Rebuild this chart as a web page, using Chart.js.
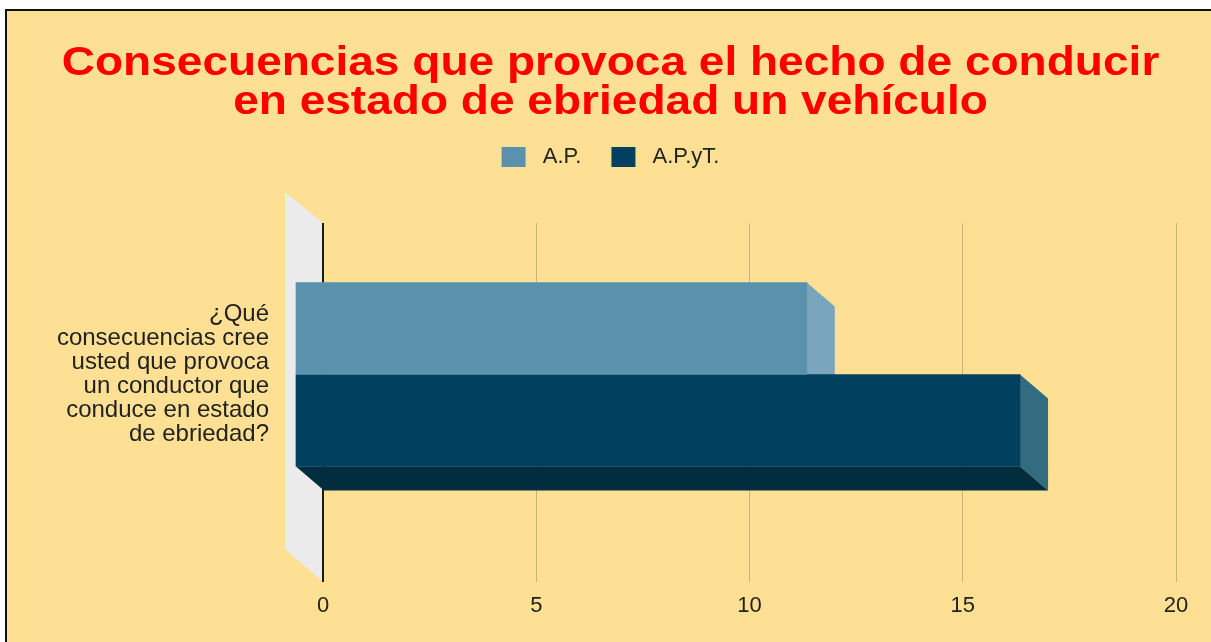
<!DOCTYPE html>
<html>
<head>
<meta charset="utf-8">
<script src="https://cdn.jsdelivr.net/npm/chart.js@4.4.1/dist/chart.umd.min.js"></script>
<style>
  html, body { margin: 0; padding: 0; background: #ffffff; }
  canvas { display: block; }
</style>
</head>
<body>
<canvas id="c" width="1211" height="642"></canvas>
<script>
const categories = [["¿Qué", "consecuencias cree", "usted que provoca", "un conductor que", "conduce en estado", "de ebriedad?"]];
const seriesNames = ["A.P.", "A.P.yT."];
const apValues = [12];
const apytValues = [17];
const xTicks = [0, 5, 10, 15, 20];

const FONT = "'Liberation Sans', Arial, sans-serif";
const BG = '#FEE094';
const SHIFT_X = 28, SHIFT_Y = 28;   // front face offset
const DEPTH_X = 28, DEPTH_Y = 24;   // 3D depth of bars
const TITLE_STRETCH = 1.151;
const sideColors = ['#7AA6BD', '#336B80'];
const bottomColors = ['#3E6175', '#012D3F'];

const background = {
  id: 'background',
  beforeDraw(chart) {
    const ctx = chart.ctx;
    const w = chart.width, h = chart.height;
    ctx.save();
    ctx.fillStyle = '#ffffff';
    ctx.fillRect(0, 0, w, h);
    ctx.fillStyle = '#111111';
    ctx.fillRect(5, 9, w - 5, h - 9);
    ctx.fillStyle = BG;
    ctx.fillRect(7, 11, w - 7, h - 11);
    const ca = chart.chartArea;
    ctx.fillStyle = '#EBEBEB';
    ctx.beginPath();
    ctx.moveTo(ca.left - 38, ca.top - 31);
    ctx.lineTo(ca.left, ca.top);
    ctx.lineTo(ca.left, ca.bottom);
    ctx.lineTo(ca.left - 38, ca.bottom - 33);
    ctx.closePath();
    ctx.fill();
    ctx.restore();
  }
};

const titleStretch = {
  id: 'titleStretch',
  afterLayout(chart) {
    const tb = chart.titleBlock;
    if (tb && !tb._stretched) {
      const orig = tb.draw;
      tb.draw = function (area) {
        const ctx = chart.ctx;
        const cx = (this.left + this.right) / 2;
        ctx.save();
        ctx.translate(cx, 0);
        ctx.scale(TITLE_STRETCH, 1);
        ctx.translate(-cx, 0);
        orig.call(this, area);
        ctx.restore();
      };
      tb._stretched = true;
    }
  }
};

const depth3d = {
  id: 'depth3d',
  beforeDatasetsDraw(chart) {
    const ctx = chart.ctx;
    ctx.save();
    chart.data.datasets.forEach((ds, i) => {
      const meta = chart.getDatasetMeta(i);
      meta.data.forEach(bar => {
        const p = bar.getProps(['x', 'y', 'base', 'height'], true);
        const x1 = Math.min(p.base, p.x) - SHIFT_X;
        const x2 = Math.max(p.base, p.x) - SHIFT_X;
        const y1 = p.y - p.height / 2 - SHIFT_Y;
        const y2 = p.y + p.height / 2 - SHIFT_Y;
        ctx.fillStyle = sideColors[i];
        ctx.beginPath();
        ctx.moveTo(x2, y1);
        ctx.lineTo(x2 + DEPTH_X, y1 + DEPTH_Y);
        ctx.lineTo(x2 + DEPTH_X, y2 + DEPTH_Y);
        ctx.lineTo(x2, y2);
        ctx.closePath();
        ctx.fill();
        ctx.fillStyle = bottomColors[i];
        ctx.beginPath();
        ctx.moveTo(x1, y2);
        ctx.lineTo(x2, y2);
        ctx.lineTo(x2 + DEPTH_X, y2 + DEPTH_Y);
        ctx.lineTo(x1 + DEPTH_X, y2 + DEPTH_Y);
        ctx.closePath();
        ctx.fill();
      });
    });
    ctx.restore();
    ctx.save();
    ctx.translate(-SHIFT_X, -SHIFT_Y);
  },
  afterDatasetsDraw(chart) {
    chart.ctx.restore();
  }
};

new Chart(document.getElementById('c'), {
  type: 'bar',
  data: {
    labels: categories,
    datasets: [
      { label: seriesNames[0], data: apValues, backgroundColor: '#5A91AD', borderWidth: 0, barThickness: 92, clip: false },
      { label: seriesNames[1], data: apytValues, backgroundColor: '#02405F', borderWidth: 0, barThickness: 92, clip: false }
    ]
  },
  options: {
    indexAxis: 'y',
    responsive: false,
    animation: false,
    layout: { padding: { top: 44, left: 10, right: 0, bottom: 0 } },
    plugins: {
      tooltip: { enabled: false },
      title: {
        display: true,
        text: ['Consecuencias que provoca el hecho de conducir', 'en estado de ebriedad un vehículo'],
        color: '#FF0000',
        font: { family: FONT, size: 40, weight: 'bold', lineHeight: 39 / 40 },
        padding: { top: 0, bottom: -6 }
      },
      legend: {
        display: true,
        position: 'top',
        labels: {
          color: '#222222',
          font: { family: FONT, size: 22 },
          boxWidth: 24,
          boxHeight: 20,
          padding: 30,
          generateLabels(chart) {
            const items = Chart.defaults.plugins.legend.labels.generateLabels(chart);
            items.forEach(it => { it.text = ' ' + it.text; });
            return items;
          }
        }
      }
    },
    scales: {
      x: {
        type: 'linear',
        position: 'bottom',
        min: 0,
        max: 20,
        afterBuildTicks(scale) { scale.ticks = xTicks.map(v => ({ value: v })); },
        ticks: { color: '#222222', font: { family: FONT, size: 22 }, padding: 11 },
        grid: {
          drawTicks: false,
          color: c => (c.tick && c.tick.value === 0) ? '#1A1A1A' : '#C9B27C',
          lineWidth: c => (c.tick && c.tick.value === 0) ? 2 : 1
        },
        border: { display: false },
        afterFit(scale) { scale.height = 60; scale.paddingLeft = 0; scale.paddingRight = 0; }
      },
      xTop: {
        type: 'linear',
        position: 'top',
        display: true,
        ticks: { display: false },
        grid: { display: false, drawTicks: false },
        border: { display: false },
        afterFit(scale) { scale.height = 45; scale.paddingLeft = 0; scale.paddingRight = 0; }
      },
      y: {
        type: 'category',
        ticks: {
          color: '#222222',
          font: { family: FONT, size: 24, lineHeight: 1.0 },
          padding: 54,
          labelOffset: -SHIFT_Y
        },
        grid: { display: false, drawTicks: false },
        border: { display: false },
        afterFit(scale) { scale.width = 313; scale.paddingTop = 0; scale.paddingBottom = 0; }
      },
      yRight: {
        type: 'linear',
        position: 'right',
        display: true,
        ticks: { display: false },
        grid: { display: false, drawTicks: false },
        border: { display: false },
        afterFit(scale) { scale.width = 35; scale.paddingTop = 0; scale.paddingBottom = 0; }
      }
    }
  },
  plugins: [background, titleStretch, depth3d]
});
</script>
</body>
</html>
